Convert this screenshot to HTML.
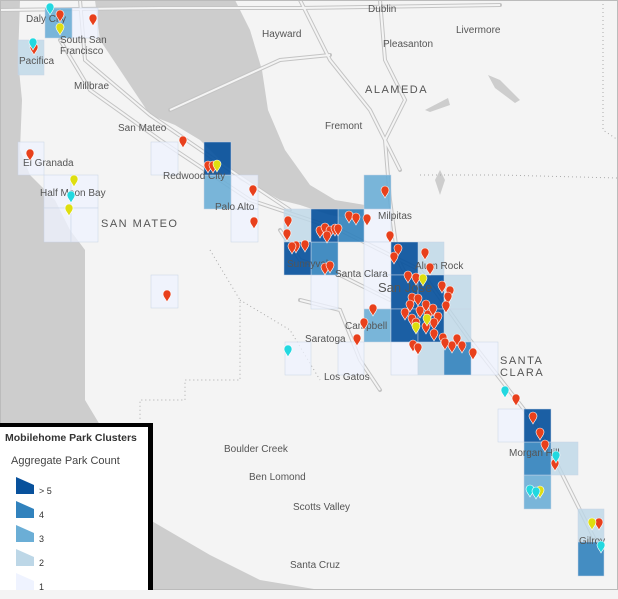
<!DOCTYPE html>
<html><head><meta charset="utf-8"><style>
body{margin:0;width:618px;height:590px;overflow:hidden;background:#f4f4f4;font-family:"Liberation Sans",sans-serif}
svg{position:absolute;left:0;top:0}
.l{font-size:10px;fill:#555}
.b{font-size:11px;fill:#555;letter-spacing:1.5px}
#leg{position:absolute;left:0;top:423px;width:153px;height:167px;background:#fff;border-top:4px solid #000;border-right:5px solid #000;box-sizing:border-box}
</style></head><body>
<svg width="618" height="590" viewBox="0 0 618 590">
<defs>
<path id="pin" d="M0,0 C-2,-4 -4,-5 -4,-8 A4,4 0 1 1 4,-8 C4,-5 2,-4 0,0Z"/>
</defs>
<rect width="618" height="590" fill="#f4f4f4"/>
<path fill="#cdcdcd" d="M0,0 L20,0 L18,60 L22,100 L20,150 L30,175 L55,200 L70,230 L85,250 L85,400 L100,425 L150,520 L210,555 L260,580 L320,590 L0,590Z"/>
<path fill="#cdcdcd" d="M95,0 L235,0 L250,30 L262,70 L268,110 L285,150 L310,185 L335,200 L365,205 L360,220 L330,215 L300,205 L280,200 L262,190 L240,180 L225,165 L200,140 L175,125 L150,115 L120,70 L100,40Z"/>
<path fill="#cdcdcd" d="M128,460 L137,455 L150,470 L133,470Z"/>
<path fill="#cdcdcd" d="M425,110 L448,98 L450,105 L430,112Z M488,75 L500,80 L520,100 L515,103 L495,88Z M440,170 L445,180 L440,195 L435,180Z"/>
<g fill="none" stroke="#c4c4c4" stroke-width="4" stroke-linecap="round"><path d="M60,40 L90,90 L160,140 L250,200 L340,230 L420,270 L470,340 L540,430 L600,550"/><path d="M80,0 L85,60 L150,115 L230,170 L290,210"/><path d="M380,0 L385,60 L405,100 L385,140 L390,200 L398,260 L420,300"/><path d="M300,0 L330,60 L370,110 L400,170"/><path d="M0,10 L160,8 L300,8 L500,5"/><path d="M170,110 L280,60 L330,55"/><path d="M300,300 L340,310 L360,360 L380,390"/><path d="M280,230 L300,260 L330,270 L390,300"/></g>
<g fill="none" stroke="#f4f4f4" stroke-width="2"><path d="M60,40 L90,90 L160,140 L250,200 L340,230 L420,270 L470,340 L540,430 L600,550"/><path d="M80,0 L85,60 L150,115 L230,170 L290,210"/><path d="M380,0 L385,60 L405,100 L385,140 L390,200 L398,260 L420,300"/><path d="M300,0 L330,60 L370,110 L400,170"/><path d="M0,10 L160,8 L300,8 L500,5"/><path d="M170,110 L280,60 L330,55"/><path d="M300,300 L340,310 L360,360 L380,390"/><path d="M280,230 L300,260 L330,270 L390,300"/></g>
<g fill="none" stroke="#aaa" stroke-width="1" stroke-dasharray="1,3"><path d="M210,250 L240,300 L240,380 L185,380 L185,400 L140,400 L140,420"/><path d="M240,300 L290,330 L320,380"/><path d="M420,175 L500,175 L618,178"/><path d="M603,0 L603,130 L618,140"/></g>
<g stroke="#c8d4e6" stroke-width="0.5">
<g fill="rgba(239,243,255,.75)">
<rect x="72" y="8" width="26" height="30"/><rect x="18" y="142" width="26" height="33"/>
<rect x="44" y="175" width="27" height="33"/><rect x="71" y="175" width="27" height="33"/><rect x="44" y="208" width="27" height="34"/><rect x="71" y="208" width="27" height="34"/>
<rect x="151" y="142" width="27" height="33"/><rect x="231" y="175" width="27" height="34"/><rect x="231" y="209" width="27" height="33"/>
<rect x="151" y="275" width="27" height="33"/><rect x="285" y="342" width="26" height="33"/>
<rect x="364" y="209" width="27" height="33"/><rect x="364" y="242" width="27" height="33"/><rect x="311" y="275" width="27" height="34"/><rect x="364" y="275" width="27" height="34"/>
<rect x="338" y="342" width="26" height="33"/><rect x="391" y="342" width="27" height="33"/><rect x="471" y="342" width="27" height="33"/><rect x="498" y="409" width="26" height="33"/>
</g>
<g fill="rgba(189,215,231,.8)">
<rect x="18" y="40" width="26" height="35"/><rect x="284" y="209" width="27" height="33"/><rect x="418" y="242" width="26" height="33"/><rect x="444" y="275" width="27" height="34"/><rect x="444" y="309" width="27" height="33"/><rect x="418" y="342" width="26" height="33"/><rect x="551" y="442" width="27" height="33"/><rect x="578" y="509" width="26" height="33"/>
</g>
<g fill="rgba(107,174,214,.9)">
<rect x="45" y="8" width="27" height="30"/><rect x="204" y="175" width="27" height="34"/><rect x="364" y="175" width="27" height="34"/><rect x="364" y="309" width="27" height="33"/><rect x="524" y="475" width="27" height="34"/>
</g>
<g fill="rgba(49,130,189,.9)">
<rect x="338" y="209" width="26" height="33"/><rect x="311" y="242" width="27" height="33"/><rect x="444" y="342" width="27" height="33"/><rect x="524" y="442" width="27" height="33"/><rect x="578" y="542" width="26" height="34"/>
</g>
<g fill="rgba(8,81,156,.92)">
<rect x="204" y="142" width="27" height="33"/><rect x="311" y="209" width="27" height="33"/><rect x="284" y="242" width="27" height="33"/><rect x="391" y="242" width="27" height="33"/><rect x="391" y="275" width="27" height="34"/><rect x="418" y="275" width="26" height="34"/><rect x="391" y="309" width="27" height="33"/><rect x="418" y="309" width="26" height="33"/><rect x="524" y="409" width="27" height="33"/>
</g>
</g>
<g class="l">
<text x="26" y="22">Daly City</text><text x="60" y="43">South San</text><text x="60" y="54">Francisco</text><text x="19" y="64">Pacifica</text>
<text x="74" y="89">Millbrae</text><text x="118" y="131">San Mateo</text><text x="23" y="166">El Granada</text><text x="40" y="196">Half Moon Bay</text>
<text x="163" y="179">Redwood City</text><text x="215" y="210">Palo Alto</text><text x="262" y="37">Hayward</text><text x="368" y="12">Dublin</text>
<text x="456" y="33">Livermore</text><text x="383" y="47">Pleasanton</text><text x="325" y="129">Fremont</text><text x="378" y="219">Milpitas</text>
<text x="287" y="267">Sunnyvale</text><text x="335" y="277">Santa Clara</text><text x="415" y="269">Alum Rock</text><text x="378" y="292" style="font-size:13px">San Jose</text>
<text x="345" y="329">Campbell</text><text x="305" y="342">Saratoga</text><text x="324" y="380">Los Gatos</text>
<text x="224" y="452">Boulder Creek</text><text x="249" y="480">Ben Lomond</text><text x="293" y="510">Scotts Valley</text><text x="290" y="568">Santa Cruz</text>
<text x="509" y="456">Morgan Hill</text><text x="579" y="544">Gilroy</text>
</g>
<g class="b"><text x="101" y="227">SAN MATEO</text><text x="365" y="93">ALAMEDA</text><text x="500" y="364">SANTA</text><text x="500" y="376">CLARA</text></g>
<g fill="#e8401c" stroke="#fff" stroke-width="0.6">
<use href="#pin" x="93" y="26"/><use href="#pin" x="60" y="22"/><use href="#pin" x="34" y="55"/><use href="#pin" x="30" y="161"/><use href="#pin" x="183" y="148"/><use href="#pin" x="208" y="173"/><use href="#pin" x="213" y="173"/><use href="#pin" x="253" y="197"/><use href="#pin" x="254" y="229"/><use href="#pin" x="167" y="302"/>
<use href="#pin" x="385" y="198"/><use href="#pin" x="288" y="228"/><use href="#pin" x="287" y="241"/><use href="#pin" x="296" y="253"/><use href="#pin" x="292" y="254"/><use href="#pin" x="305" y="252"/>
<use href="#pin" x="320" y="238"/><use href="#pin" x="325" y="235"/><use href="#pin" x="330" y="238"/><use href="#pin" x="335" y="236"/><use href="#pin" x="327" y="243"/><use href="#pin" x="338" y="236"/>
<use href="#pin" x="349" y="223"/><use href="#pin" x="356" y="225"/><use href="#pin" x="367" y="226"/><use href="#pin" x="390" y="243"/><use href="#pin" x="325" y="275"/><use href="#pin" x="330" y="273"/>
<use href="#pin" x="398" y="256"/><use href="#pin" x="394" y="264"/><use href="#pin" x="425" y="260"/><use href="#pin" x="430" y="275"/><use href="#pin" x="416" y="285"/><use href="#pin" x="408" y="283"/>
<use href="#pin" x="442" y="293"/><use href="#pin" x="450" y="298"/><use href="#pin" x="448" y="304"/><use href="#pin" x="446" y="313"/><use href="#pin" x="412" y="305"/><use href="#pin" x="418" y="306"/>
<use href="#pin" x="410" y="312"/><use href="#pin" x="426" y="312"/><use href="#pin" x="428" y="322"/><use href="#pin" x="420" y="318"/><use href="#pin" x="405" y="320"/><use href="#pin" x="412" y="326"/>
<use href="#pin" x="433" y="316"/><use href="#pin" x="438" y="324"/><use href="#pin" x="416" y="330"/><use href="#pin" x="426" y="334"/><use href="#pin" x="434" y="330"/>
<use href="#pin" x="434" y="341"/><use href="#pin" x="443" y="345"/><use href="#pin" x="457" y="346"/><use href="#pin" x="452" y="353"/><use href="#pin" x="445" y="350"/><use href="#pin" x="462" y="353"/>
<use href="#pin" x="413" y="352"/><use href="#pin" x="418" y="355"/><use href="#pin" x="357" y="346"/><use href="#pin" x="373" y="316"/><use href="#pin" x="364" y="330"/><use href="#pin" x="473" y="360"/>
<use href="#pin" x="516" y="406"/><use href="#pin" x="533" y="424"/><use href="#pin" x="540" y="440"/><use href="#pin" x="545" y="452"/><use href="#pin" x="555" y="471"/><use href="#pin" x="599" y="530"/>
</g>
<g fill="#dede10" stroke="#fff" stroke-width="0.6"><use href="#pin" x="60" y="35"/><use href="#pin" x="74" y="187"/><use href="#pin" x="69" y="216"/><use href="#pin" x="217" y="172"/><use href="#pin" x="423" y="286"/><use href="#pin" x="427" y="326"/><use href="#pin" x="416" y="334"/><use href="#pin" x="540" y="498"/><use href="#pin" x="592" y="530"/></g>
<g fill="#22d8e0" stroke="#fff" stroke-width="0.6"><use href="#pin" x="50" y="15"/><use href="#pin" x="33" y="50"/><use href="#pin" x="71" y="203"/><use href="#pin" x="288" y="357"/><use href="#pin" x="505" y="398"/><use href="#pin" x="530" y="497"/><use href="#pin" x="536" y="499"/><use href="#pin" x="556" y="463"/><use href="#pin" x="601" y="553"/></g>
<rect x="0.5" y="0.5" width="617" height="589" fill="none" stroke="#bbb" stroke-width="1"/>
</svg>
<div id="leg">
<div style="position:absolute;left:5px;top:5px;font-size:10.5px;font-weight:bold;color:#333;white-space:nowrap">Mobilehome Park Clusters</div>
<div style="position:absolute;left:11px;top:28px;font-size:11px;color:#444;white-space:nowrap">Aggregate Park Count</div>
<svg style="position:absolute;left:16px;top:50px" width="40" height="115">
<path d="M0,0 L18,8 L18,17 L0,17Z" fill="#08519c"/>
<path d="M0,24 L18,32 L18,41 L0,41Z" fill="#3182bd"/>
<path d="M0,48 L18,56 L18,65 L0,65Z" fill="#6baed6"/>
<path d="M0,72 L18,80 L18,89 L0,89Z" fill="#bdd7e7"/>
<path d="M0,96 L18,104 L18,113 L0,113Z" fill="#eff3ff"/>
</svg>
<div style="position:absolute;left:39px;top:52px;font-size:9px;color:#333;line-height:24px">&gt; 5<br>4<br>3<br>2<br>1</div>
</div>
</body></html>
